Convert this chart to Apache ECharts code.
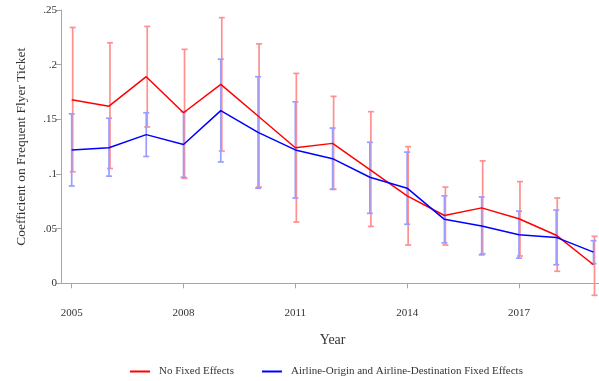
<!DOCTYPE html>
<html>
<head>
<meta charset="utf-8">
<script src="https://cdn.jsdelivr.net/npm/echarts@6/dist/echarts.min.js"></script>
<style>
  html, body { margin: 0; padding: 0; background: #fff; }
  #chart { width: 599px; height: 381px; }
</style>
</head>
<body>
<div id="chart"></div>
<script>
// Estimated coefficients by year, with 95% confidence bounds
const years = [2005, 2006, 2007, 2008, 2009, 2010, 2011, 2012, 2013, 2014, 2015, 2016, 2017, 2018, 2019];
const yearTicks = [2005, 2008, 2011, 2014, 2017];

const noFE     = [0.168, 0.162, 0.189, 0.156, 0.182, 0.153, 0.124, 0.128, 0.104, 0.080, 0.062, 0.069, 0.059, 0.044, 0.017];
const noFELow  = [0.102, 0.105, 0.143, 0.096, 0.121, 0.088, 0.056, 0.086, 0.052, 0.035, 0.035, 0.027, 0.025, 0.011, -0.011];
const noFEHigh = [0.234, 0.220, 0.235, 0.214, 0.243, 0.219, 0.192, 0.171, 0.157, 0.125, 0.088, 0.112, 0.093, 0.078, 0.043];

const fe     = [0.122, 0.124, 0.136, 0.127, 0.158, 0.138, 0.122, 0.114, 0.097, 0.087, 0.0585, 0.0525, 0.0445, 0.042, 0.0285];
const feLow  = [0.089, 0.098, 0.116, 0.097, 0.111, 0.087, 0.078, 0.086, 0.064, 0.054, 0.037, 0.026, 0.023, 0.017, 0.018];
const feHigh = [0.155, 0.151, 0.156, 0.157, 0.205, 0.189, 0.166, 0.142, 0.129, 0.120, 0.080, 0.079, 0.066, 0.067, 0.039];

const nameNoFE = 'No Fixed Effects';
const nameFE = 'Airline-Origin and Airline-Destination Fixed Effects';

const FONT = '"Liberation Serif", "DejaVu Serif", serif';
const AXIS_GRAY = '#a6a6a6';
const TEXT = '#333';

function pairs(xs, ys) { return xs.map((x, i) => [x, ys[i]]); }
function ranges(xs, lo, hi) { return xs.map((x, i) => [x, lo[i], hi[i]]); }

// Vertical range bar with caps, positioned through the axes
function errorBar(color, nudge) {
  return function (params, api) {
    const x = api.value(0);
    const top = api.coord([x, api.value(2)]);
    const bot = api.coord([x, api.value(1)]);
    const cx = top[0] + nudge;
    const half = 3;
    const style = { stroke: color, lineWidth: 1.7 };
    return {
      type: 'group',
      children: [
        { type: 'line', shape: { x1: cx, y1: top[1], x2: cx, y2: bot[1] }, style },
        { type: 'line', shape: { x1: cx - half, y1: top[1], x2: cx + half, y2: top[1] }, style },
        { type: 'line', shape: { x1: cx - half, y1: bot[1], x2: cx + half, y2: bot[1] }, style }
      ]
    };
  };
}

// Plot region spans slightly beyond the first/last year
const pxPerYear = (593.5 - 71.7) / 14;
const xMin = 2005 - (71.7 - 61) / pxPerYear;
const xMax = 2019 + (599 - 593.5) / pxPerYear;

const chart = echarts.init(document.getElementById('chart'), null, { renderer: 'canvas' });

chart.setOption({
  animation: false,
  backgroundColor: '#fff',
  textStyle: { fontFamily: FONT, color: TEXT },
  grid: [
    { left: 61, right: 0, top: 10, bottom: 97.7 },
    { left: 71.7, right: 5.5, top: 10, bottom: 97.7 }
  ],
  xAxis: [
    {
      gridIndex: 0, type: 'value', min: xMin, max: xMax,
      axisLine: { show: true, onZero: false, lineStyle: { color: AXIS_GRAY, width: 1 } },
      axisTick: { show: false }, axisLabel: { show: false }, splitLine: { show: false }
    },
    {
      gridIndex: 1, type: 'value', min: 2005, max: 2019, offset: 20,
      name: 'Year', nameLocation: 'middle', nameGap: 30,
      nameTextStyle: { fontFamily: FONT, fontSize: 14, color: TEXT },
      axisLine: { show: true, lineStyle: { color: AXIS_GRAY, width: 1 } },
      axisTick: { show: true, length: 5, lineStyle: { color: AXIS_GRAY }, customValues: yearTicks },
      axisLabel: { fontFamily: FONT, fontSize: 11, color: TEXT, margin: 4, customValues: yearTicks, formatter: v => String(v) },
      splitLine: { show: false }
    }
  ],
  yAxis: [
    {
      gridIndex: 0, type: 'value', min: 0, max: 0.25, interval: 0.05,
      name: 'Coefficient on Frequent Flyer Ticket', nameLocation: 'middle', nameGap: 33,
      nameTextStyle: { fontFamily: FONT, fontSize: 13.5, color: TEXT },
      axisLine: { show: true, lineStyle: { color: AXIS_GRAY, width: 1 } },
      axisTick: { show: true, length: 5, lineStyle: { color: AXIS_GRAY } },
      axisLabel: {
        fontFamily: FONT, fontSize: 11, color: TEXT, margin: 4,
        formatter: v => (v === 0 ? '0' : String(+v.toFixed(2)).replace(/^0/, ''))
      },
      splitLine: { show: false }
    },
    { gridIndex: 1, type: 'value', min: 0, max: 0.25, show: false }
  ],
  legend: {
    bottom: 4, left: 130, padding: 0,
    icon: 'rect', itemWidth: 20, itemHeight: 2, itemGap: 28,
    textStyle: { fontFamily: FONT, fontSize: 11, color: TEXT, padding: [0, 0, 0, 4] },
    data: [nameNoFE, nameFE]
  },
  series: [
    {
      type: 'custom', xAxisIndex: 0, yAxisIndex: 0, clip: false, silent: true, z: 1,
      renderItem: errorBar('#ff9090', 1),
      data: ranges(years, noFELow, noFEHigh)
    },
    {
      type: 'custom', xAxisIndex: 0, yAxisIndex: 0, clip: false, silent: true, z: 2,
      renderItem: errorBar('#9c9cff', 0),
      data: ranges(years, feLow, feHigh)
    },
    {
      name: nameNoFE, type: 'line', xAxisIndex: 0, yAxisIndex: 0, z: 3,
      showSymbol: false, symbol: 'none',
      lineStyle: { color: '#ff0000', width: 1.5 }, itemStyle: { color: '#ff0000' },
      data: pairs(years, noFE)
    },
    {
      name: nameFE, type: 'line', xAxisIndex: 0, yAxisIndex: 0, z: 4,
      showSymbol: false, symbol: 'none',
      lineStyle: { color: '#0000ff', width: 1.5 }, itemStyle: { color: '#0000ff' },
      data: pairs(years, fe)
    }
  ]
});
</script>
</body>
</html>
